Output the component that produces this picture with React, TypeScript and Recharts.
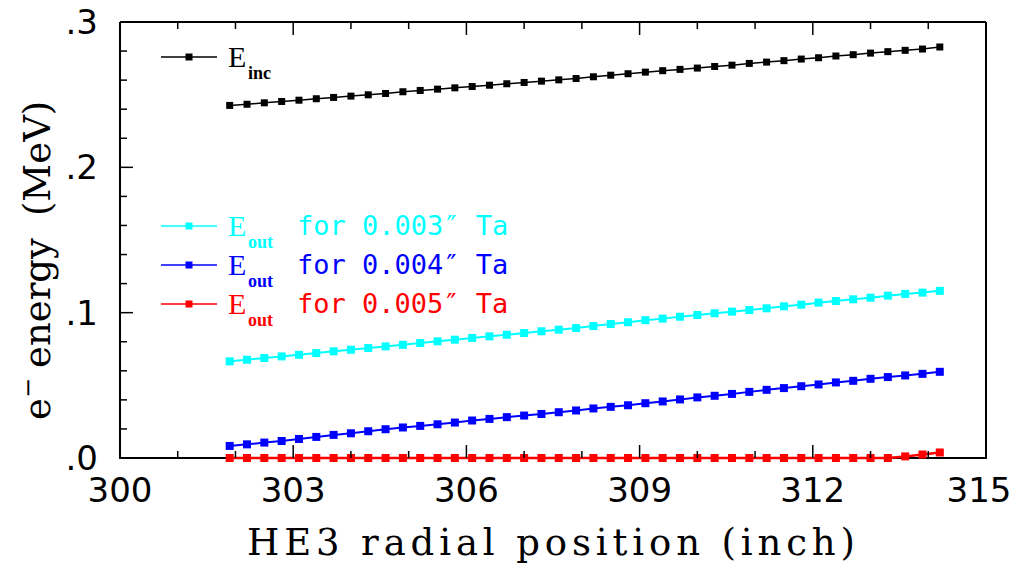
import { LineChart, Line, XAxis, YAxis } from "recharts";

// radial positions (inch)
const xPositions = [
  301.9, 302.2, 302.5, 302.8, 303.1, 303.4, 303.7, 304.0, 304.3, 304.6, 304.9,
  305.2, 305.5, 305.8, 306.1, 306.4, 306.7, 307.0, 307.3, 307.6, 307.9, 308.2,
  308.5, 308.8, 309.1, 309.4, 309.7, 310.0, 310.3, 310.6, 310.9, 311.2, 311.5,
  311.8, 312.1, 312.4, 312.7, 313.0, 313.3, 313.6, 313.9, 314.2,
];

// energies (MeV)
const eInc = [
  0.2426, 0.2434, 0.2444, 0.2453, 0.2462, 0.2472, 0.2481, 0.249, 0.2499, 0.2508,
  0.252, 0.2529, 0.2538, 0.2547, 0.2556, 0.2565, 0.2575, 0.2584, 0.2593, 0.2602,
  0.2611, 0.2623, 0.2634, 0.2644, 0.2655, 0.2665, 0.2674, 0.2683, 0.2694, 0.2703,
  0.2715, 0.2724, 0.2734, 0.2745, 0.2754, 0.2766, 0.2775, 0.2786, 0.2796, 0.2805,
  0.2814, 0.2828,
];
const eOut003 = [
  0.0665, 0.0676, 0.0688, 0.0699, 0.071, 0.0722, 0.0734, 0.0745, 0.0757, 0.0768,
  0.0779, 0.0791, 0.0803, 0.0814, 0.0826, 0.0837, 0.0848, 0.086, 0.0872, 0.0883,
  0.0894, 0.0908, 0.0922, 0.0934, 0.0948, 0.0959, 0.0972, 0.0984, 0.0996, 0.1007,
  0.1018, 0.103, 0.1044, 0.1055, 0.1069, 0.108, 0.1092, 0.1103, 0.1117, 0.1129,
  0.1138, 0.115,
];
const eOut004 = [
  0.0083, 0.0094, 0.0106, 0.0117, 0.0131, 0.0145, 0.0159, 0.017, 0.0184, 0.0198,
  0.021, 0.0221, 0.0232, 0.0244, 0.0258, 0.0269, 0.0281, 0.0292, 0.0303, 0.0315,
  0.0327, 0.0341, 0.0352, 0.0363, 0.0377, 0.0389, 0.0403, 0.0417, 0.0428, 0.0441,
  0.0455, 0.0469, 0.0481, 0.0494, 0.0506, 0.052, 0.0531, 0.0545, 0.0557, 0.0568,
  0.0579, 0.0593,
];
const eOut005 = [
  0, 0, 0, 0, 0, 0, 0, 0, 0, 0, 0, 0, 0, 0, 0, 0, 0, 0, 0, 0, 0, 0, 0, 0, 0, 0,
  0, 0, 0, 0, 0, 0, 0, 0, 0, 0, 0, 0, 0, 0.0011, 0.0024, 0.0038,
];

const xTicks = [300, 301, 302, 303, 304, 305, 306, 307, 308, 309, 310, 311, 312, 313, 314, 315];
const yTicks = [0, 0.02, 0.04, 0.06, 0.08, 0.1, 0.12, 0.14, 0.16, 0.18, 0.2, 0.22, 0.24, 0.26, 0.28, 0.3];

const legendItems = [
  { color: "#000000", sub: "inc", text: "", y: 57 },
  { color: "#00ffff", sub: "out", text: "for 0.003\u2033 Ta", y: 226 },
  { color: "#0000ff", sub: "out", text: "for 0.004\u2033 Ta", y: 265 },
  { color: "#ff0000", sub: "out", text: "for 0.005\u2033 Ta", y: 304 },
];

const data = xPositions.map((x, i) => ({
  x,
  inc: eInc[i],
  t3: eOut003[i],
  t4: eOut004[i],
  t5: eOut005[i],
}));

const isMajorX = (v: number) => v % 3 === 0;
const isMajorY = (v: number) => Math.abs(v * 10 - Math.round(v * 10)) < 1e-6;

const TITLE_FONT = "'DejaVu Serif', serif";
const SANS = "'DejaVu Sans', sans-serif";

// plot box (chart margin + axis sizes)
const PLOT_LEFT = 120;
const PLOT_RIGHT = 986;
const PLOT_BOTTOM = 458;

function BottomTick({ x, y, payload }: any) {
  const major = isMajorX(payload.value);
  // keep the last label inside the picture
  const lx = Math.min(x, 979);
  return (
    <g>
      <line x1={x} x2={x} y1={y} y2={y - (major ? 13 : 7)} stroke="#000" strokeWidth={1.5} />
      {major && (
        <text x={lx} y={y + 44} textAnchor="middle" fontFamily={SANS} fontSize={34} fill="#000">
          {payload.value}
        </text>
      )}
    </g>
  );
}

function TopTick({ x, y, payload }: any) {
  const major = isMajorX(payload.value);
  return <line x1={x} x2={x} y1={y} y2={y + (major ? 13 : 7)} stroke="#000" strokeWidth={1.5} />;
}

function LeftTick({ x, y, payload }: any) {
  const major = isMajorY(payload.value);
  return (
    <g>
      <line x1={x} x2={x + (major ? 13 : 7)} y1={y} y2={y} stroke="#000" strokeWidth={1.5} />
      {major && (
        <text x={x - 22} y={y + 12} textAnchor="end" fontFamily={SANS} fontSize={34} fill="#000">
          {payload.value.toFixed(1).replace(/^0/, "")}
        </text>
      )}
    </g>
  );
}

function RightTick({ x, y, payload }: any) {
  const major = isMajorY(payload.value);
  return <line x1={x} x2={x - (major ? 13 : 7)} y1={y} y2={y} stroke="#000" strokeWidth={1.5} />;
}

const squareDot = (name: string, color: string, size: number) => (p: any) => (
  <rect
    key={`${name}-${p.index}`}
    x={p.cx - size / 2}
    y={p.cy - size / 2}
    width={size}
    height={size}
    fill={color}
  />
);

const axisLine = { stroke: "#000", strokeWidth: 2 };

export default function App() {
  return (
    <div style={{ position: "absolute", left: 0, top: 0, width: 1014, height: 566, background: "#fff" }}>
      {/* bottom frame edge drawn underneath so the red series stays on top */}
      <svg width={1014} height={566} style={{ position: "absolute", left: 0, top: 0 }}>
        <line x1={PLOT_LEFT - 1} x2={PLOT_RIGHT + 1} y1={PLOT_BOTTOM} y2={PLOT_BOTTOM} stroke="#000" strokeWidth={2} />
      </svg>
      <LineChart
        width={1014}
        height={566}
        data={data}
        margin={{ top: 21, right: 27, bottom: 48, left: 60 }}
      >
        <XAxis
          dataKey="x"
          type="number"
          domain={[300, 315]}
          ticks={xTicks}
          interval={0}
          height={60}
          tickSize={0}
          tickMargin={0}
          tickLine={false}
          axisLine={false}
          tick={BottomTick}
        />
        <XAxis
          xAxisId="top"
          orientation="top"
          dataKey="x"
          type="number"
          domain={[300, 315]}
          ticks={xTicks}
          interval={0}
          height={1}
          tickSize={0}
          tickMargin={0}
          tickLine={false}
          axisLine={axisLine}
          tick={TopTick}
        />
        <YAxis
          type="number"
          domain={[0, 0.3]}
          ticks={yTicks}
          interval={0}
          width={60}
          tickSize={0}
          tickMargin={0}
          tickLine={false}
          axisLine={axisLine}
          tick={LeftTick}
        />
        <YAxis
          yAxisId="right"
          orientation="right"
          type="number"
          domain={[0, 0.3]}
          ticks={yTicks}
          interval={0}
          width={1}
          tickSize={0}
          tickMargin={0}
          tickLine={false}
          axisLine={axisLine}
          tick={RightTick}
        />
        <Line dataKey="inc" type="linear" stroke="#000" strokeWidth={1.5} dot={squareDot("inc", "#000", 7)} activeDot={false} isAnimationActive={false} />
        <Line dataKey="t3" type="linear" stroke="#00ffff" strokeWidth={2} dot={squareDot("t3", "#00ffff", 8)} activeDot={false} isAnimationActive={false} />
        <Line dataKey="t4" type="linear" stroke="#0000ff" strokeWidth={2} dot={squareDot("t4", "#0000ff", 8)} activeDot={false} isAnimationActive={false} />
        <Line dataKey="t5" type="linear" stroke="#ff0000" strokeWidth={2.5} dot={squareDot("t5", "#ff0000", 8)} activeDot={false} isAnimationActive={false} />
      </LineChart>

      <svg
        width={1014}
        height={566}
        style={{ position: "absolute", left: 0, top: 0, pointerEvents: "none" }}
      >
        {legendItems.map((it) => (
          <g key={it.y}>
            <line x1={161} x2={217} y1={it.y} y2={it.y} stroke={it.color} strokeWidth={1.5} />
            <rect x={189 - 3.5} y={it.y - 3.5} width={7} height={7} fill={it.color} />
            <text x={228} y={it.y + 10} fill={it.color} fontFamily="'Liberation Serif', serif" fontSize={30}>
              E
              <tspan x={248} y={it.y + 22} fontSize={18} fontWeight="bold">
                {it.sub}
              </tspan>
            </text>
            {it.text && (
              <text x={297} y={it.y + 9} fill={it.color} fontFamily="'DejaVu Sans Mono', monospace" fontSize={27}>
                {it.text}
              </text>
            )}
          </g>
        ))}
        <text
          x={247}
          y={555}
          textLength={608}
          lengthAdjust="spacing"
          fontFamily={TITLE_FONT}
          fontSize={37}
          fill="#000"
        >
          HE3 radial position (inch)
        </text>
        <text
          transform="translate(50,420) rotate(-90)"
          fontFamily={TITLE_FONT}
          fontSize={37}
          fill="#000"
        >
          e<tspan dy={-14} fontSize={24}>{"\u2212"}</tspan>
          <tspan dy={14} dx={10}>energy</tspan>
          <tspan dx={22}>(MeV)</tspan>
        </text>
      </svg>
    </div>
  );
}
